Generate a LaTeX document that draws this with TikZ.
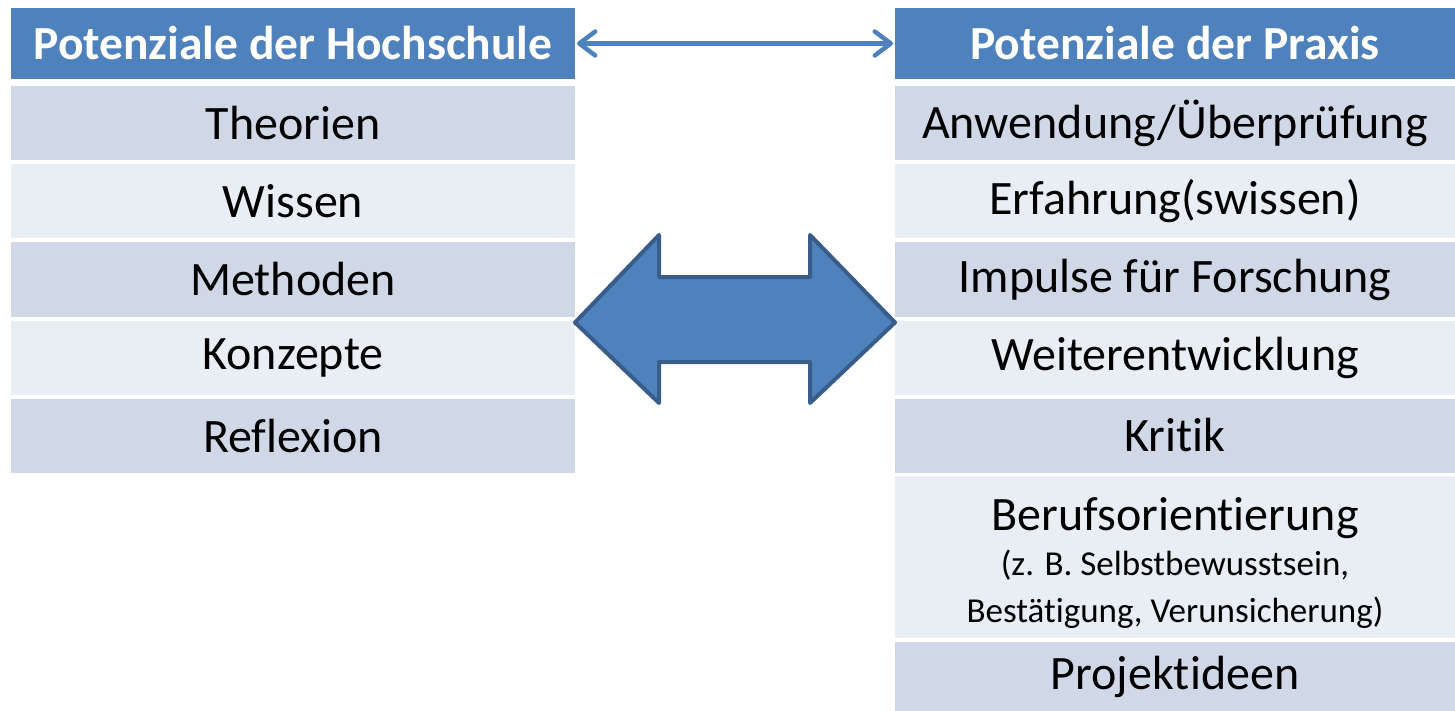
\documentclass[tikz,border=0pt]{standalone}
\usepackage{fontspec}
\setmainfont{Carlito}[Ligatures={NoCommon}]
\usetikzlibrary{arrows.meta}
\definecolor{hdr}{HTML}{4F81BD}
\definecolor{rowdark}{HTML}{D0D8E8}
\definecolor{rowlight}{HTML}{E9EDF4}
\definecolor{arrowline}{HTML}{385D8A}
\tikzset{
  cell/.style={rectangle, inner sep=0pt, outer sep=0pt, text=black,
    font=\fontsize{48}{54}\selectfont},
  hcell/.style={cell, fill=hdr, text=white, font=\fontsize{47.5}{54}\selectfont\bfseries, minimum height=71pt},
  dark/.style={cell, fill=rowdark, minimum height=74pt},
  light/.style={cell, fill=rowlight, minimum height=74pt},
  lcol/.style={minimum width=564pt},
  rcol/.style={minimum width=560pt},
  linkarrow/.style={draw=hdr, line width=4.5pt, line cap=round,
    {Straight Barb[length=16pt,width=24pt,line cap=round,line join=round]}-{Straight Barb[length=16pt,width=24pt,line cap=round,line join=round]}},
  bigarrow/.style={fill=hdr, draw=arrowline, line width=4pt, line join=round}
}
\newcommand{\subtxt}[1]{{\fontsize{35}{44}\selectfont #1}}
\begin{document}
\begin{tikzpicture}[x=1pt,y=1pt]
\useasboundingbox (0,0) rectangle (1455,-711);
% left column
\node[hcell,lcol] (lh) at (293,-43.5) {Potenziale der Hochschule};
\node[dark,lcol]  (l1) at (293,-123.5) {Theorien};
\node[light,lcol] (l2) at (293,-201.5) {Wissen};
\node[dark,lcol]  (l3) at (293,-279.5) {Methoden};
\node[light,lcol] (l4) at (293,-357.5) {Konzepte};
\node[dark,lcol]  (l5) at (293,-435.5) {Reflexion};
% right column
\node[hcell,rcol] (rh) at (1175,-43.5) {Potenziale der Praxis};
\node[dark,rcol]  (r1) at (1175,-123.5) {Anwendung/Überprüfung};
\node[light,rcol] (r2) at (1175,-201.5) {Erfahrung(swissen)};
\node[dark,rcol]  (r3) at (1175,-279.5) {Impulse für Forschung};
\node[light,rcol] (r4) at (1175,-357.5) {Weiterentwicklung};
\node[dark,rcol]  (r5) at (1175,-435.5) {Kritik};
\node[light,rcol,minimum height=162pt] (r6) at (1175,-556.5) {};
\node[cell,align=center] (r6t) at ([yshift=-6pt]r6.center)
  {Berufsorientierung\\[-9pt]\subtxt{(z. B. Selbstbewusstsein,}\\[-7pt]\subtxt{Bestätigung, Verunsicherung)}};
\node[dark,rcol,minimum height=69pt] (r7) at (1175,-676.5) {Projektideen};
% link arrow between headers
\draw[linkarrow] ([xshift=2pt]lh.east) -- ([xshift=-2pt]rh.west);
% big double arrow
\coordinate (bl) at (l4.north east);
\coordinate (br) at (r4.north west);
\draw[bigarrow] ([yshift=-2pt]bl) -- (659,-235) -- (659,-277) -- (810,-277) -- (810,-235)
  -- ([yshift=-2pt]br) -- (810,-403) -- (810,-362) -- (659,-362) -- (659,-403) -- cycle;
\end{tikzpicture}
\end{document}
